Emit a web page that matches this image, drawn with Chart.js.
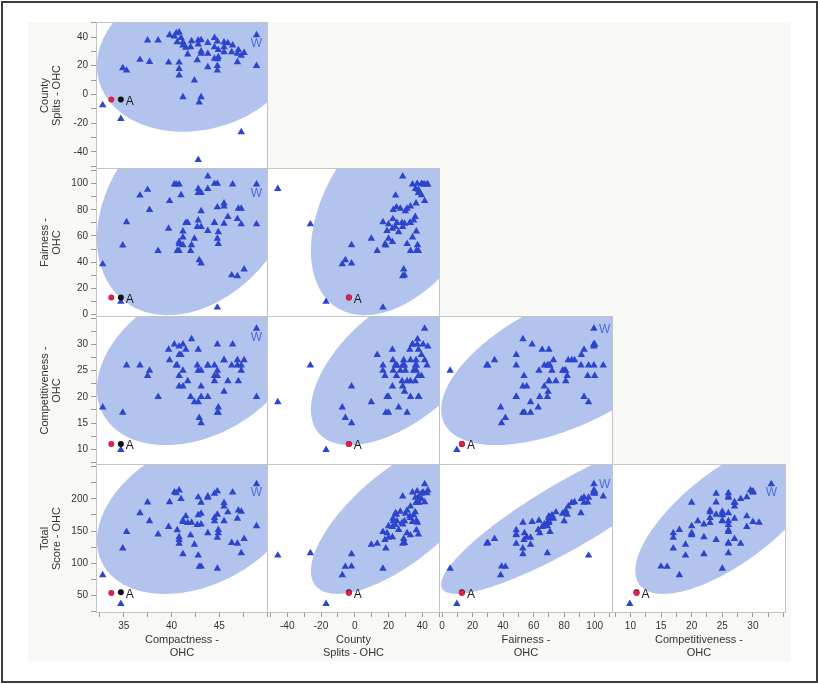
<!DOCTYPE html>
<html>
<head>
<meta charset="utf-8">
<script src="https://cdn.jsdelivr.net/npm/chart.js@4.4.1/dist/chart.umd.min.js"></script>
<style>
  body { margin: 0; background: #fff; }
  #frame { position: absolute; left: 1px; top: 1px; width: 817px; height: 682px; box-sizing: border-box; border: 2px solid #3c3c3c; }
  #bg { position: absolute; left: 28px; top: 22px; width: 763px; height: 639px; background: #f8f8f4; }
  .cell { position: absolute; }
</style>
</head>
<body>
<div id="frame"></div>
<div id="bg"></div>
<script>
// one entry per plan
const compactness = [32.8, 34.7, 34.9, 35.3, 36.7, 37.5, 37.7, 38.6, 39.7, 39.8,
  40.3, 40.5, 40.8, 41.0, 40.6, 41.2, 41.2, 41.5, 40.8, 40.8,
  40.8, 41.2, 42.1, 42.4, 42.8, 42.8, 43.1, 43.8, 43.8, 43.1,
  42.9, 42.8, 44.5, 44.5, 44.8, 44.8, 44.8, 45.5, 45.9, 45.5,
  46.4, 46.3, 46.9, 46.9, 47.3, 47.6, 47.3, 48.9, 48.9, 43.8,
  43.1, 44.9, 44.9, 44.5, 42.7, 43.1, 45.5, 47.0, 42.0, 41.7, 44.8];
const countySplits = [-7.4, -17, 18.4, 16.7, 24.2, 37.7, 22.8, 37.7, 22.3, 41.4,
  40.5, 42.8, 43.3, 39.5, 36.5, 36.5, 34.2, 32.6, 22.3, 17.9,
  13.3, -1.9, 37.2, 9.8, 37.7, 34.9, 28.4, 28.4, 19.1, -1.9,
  -5.6, -45.6, 39.5, 33, 24.7, 20, 16.7, 36.3, 35.8, 29.5,
  34.2, 29.5, 28.4, 22.6, 27, 29, -26.3, 41.4, 20, 36,
  30, 26, 31, 25, 24, 38, 33, 31, 33, 28, 37];
const fairness = [38.4, 9.7, 52.9, 70.7, 91, 95.4, 80, 48.6, 65.6, 86.8,
  99.5, 99.5, 99.5, 91.3, 48.6, 63.5, 59, 70, 55.5, 53.7,
  48.6, 53, 53, 58, 93, 72, 67, 105.6, 64, 39,
  41.5, 96, 100, 70, 82, 58, 5.3, 85, 74.6, 69.5,
  99.5, 30, 29.3, 73, 81, 34.4, 69, 99.5, 69, 96,
  79, 63, 54, 70, 67, 93, 82.7, 81, 48.6, 70, 100];
const competitiveness = [18, 9.9, 17, 26, 26, 24, 25, 20, 29, 27,
  30, 26, 29.6, 28, 26, 25, 30, 29, 22, 24,
  28, 22, 31, 19, 29, 25, 22, 26, 20, 15,
  16, 19, 24, 23, 24, 17, 25, 27, 23, 21,
  30, 26, 26, 27, 25, 27, 26, 33, 20, 26,
  25, 18, 17, 26, 26, 20, 27, 23, 20, 23, 30];
const totalScore = [81.8, 37.3, 123.2, 148.7, 177.9, 194.6, 165.5, 144.9, 156.6, 195.0,
  210.3, 208.8, 213.2, 199.8, 151.7, 166.2, 164.4, 173.1, 140.6, 136.4,
  130.7, 114.3, 163.3, 129.2, 202.5, 174.7, 160.5, 203.8, 146.9, 95.2,
  94.8, 112.2, 208.0, 170.5, 175.5, 139.8, 91.8, 193.8, 179.3, 165.5,
  210.1, 131.8, 130.6, 169.5, 180.3, 138.0, 116.0, 222.8, 157.9, 201.8,
  177.1, 151.9, 146.9, 165.5, 159.7, 194.1, 188.2, 182.0, 143.6, 162.7, 211.8];

// highlighted plans: compactness, splits, fairness, competitiveness, total
const planA = [34.7, -3.5, 13, 11, 55.2];
const planRed = [33.7, -3.5, 13, 11, 54.2];
const W_INDEX = 47;

// 95% density ellipses as drawn: centre and half-extent per variable, correlation per panel
const ellipseCentre = [42.8, 28, 83, 26.5, 175.6];
const ellipseHalf = [10.6, 54, 83.6, 15.7, 123];
const ellipseCorr = [
  [0.15],
  [0.30, 0.41],
  [0.32, 0.57, 0.57],
  [0.33, 0.71, 0.88, 0.71]
];

// tick labels
const compactnessTicks = [35, 40, 45];
const splitsTicks = [-40, -20, 0, 20, 40];
const fairnessTicks = [0, 20, 40, 60, 80, 100];
const competitivenessTicks = [10, 15, 20, 25, 30];
const totalTicks = [50, 100, 150, 200];

const VARS = [
  { values: compactness, title: ['Compactness -', 'OHC'], min: 32.1, max: 50.1, major: compactnessTicks, step: 2.5 },
  { values: countySplits, title: ['County', 'Splits - OHC'], min: -52, max: 50.5, major: splitsTicks, step: 10 },
  { values: fairness, title: ['Fairness -', 'OHC'], min: -2, max: 112, major: fairnessTicks, step: 10 },
  { values: competitiveness, title: ['Competitiveness -', 'OHC'], min: 7, max: 35.4, major: competitivenessTicks, step: 2.5 },
  { values: totalScore, title: ['Total', 'Score - OHC'], min: 23, max: 254, major: totalTicks, step: 25 }
];

const COL_X = [96, 267, 439, 612, 785];
const ROW_Y = [22, 168, 316, 464, 612];
const AXIS_LEFT = 30, AXIS_BOTTOM = 660;
const FONT = '"Liberation Sans", Arial, sans-serif';
// where the W label sits in each column
const W_POS = ['below', null, 'right', 'below'];

Chart.defaults.font.family = FONT;

function tickValues(v) {
  const out = [];
  for (let t = Math.ceil(v.min / v.step) * v.step; t <= v.max; t += v.step) out.push(Math.round(t * 100) / 100);
  return out;
}

const ellipsePlugin = {
  id: 'ellipse',
  beforeDatasetsDraw(chart) {
    const e = chart.options.plugins.ellipse;
    const { ctx, chartArea: ca, scales } = chart;
    const q = Math.sqrt(1 - e.rho * e.rho);
    ctx.save();
    ctx.beginPath();
    ctx.rect(ca.left, ca.top, ca.width, ca.height);
    ctx.clip();
    ctx.beginPath();
    for (let i = 0; i <= 160; i++) {
      const t = i / 160 * 2 * Math.PI;
      const px = scales.x.getPixelForValue(e.mx + e.sx * Math.cos(t));
      const py = scales.y.getPixelForValue(e.my + e.sy * (e.rho * Math.cos(t) + q * Math.sin(t)));
      i ? ctx.lineTo(px, py) : ctx.moveTo(px, py);
    }
    ctx.closePath();
    ctx.fillStyle = 'rgb(178,196,238)';
    ctx.fill();
    ctx.restore();
  }
};

const panelPlugin = {
  id: 'panel',
  beforeDraw(chart) {
    const { ctx, chartArea: ca } = chart;
    ctx.save();
    ctx.fillStyle = '#fff';
    ctx.fillRect(ca.left, ca.top, ca.width, ca.height);
    ctx.restore();
  },
  afterDatasetsDraw(chart) {
    const o = chart.options.plugins.panel;
    const { ctx, chartArea: ca, scales: { x, y } } = chart;
    ctx.save();
    ctx.beginPath();
    ctx.rect(ca.left, ca.top, ca.width, ca.height);
    ctx.clip();
    ctx.font = '12px ' + FONT;
    ctx.textBaseline = 'middle';
    ctx.fillStyle = '#1a1a1a';
    ctx.textAlign = 'left';
    ctx.fillText('A', x.getPixelForValue(o.a.x) + 5, y.getPixelForValue(o.a.y) + 2);
    if (o.wPos) {
      const wx = x.getPixelForValue(o.w.x), wy = y.getPixelForValue(o.w.y);
      ctx.fillStyle = '#4d6bd6';
      if (o.wPos === 'below') { ctx.textAlign = 'center'; ctx.fillText('W', wx, wy + 9); }
      else { ctx.textAlign = 'left'; ctx.fillText('W', wx + 5, wy + 1); }
    }
    ctx.restore();
  },
  afterDraw(chart) {
    const { ctx, chartArea: ca } = chart;
    ctx.save();
    ctx.strokeStyle = '#c4c4c4';
    ctx.lineWidth = 1;
    ctx.strokeRect(ca.left + 0.5, ca.top + 0.5, ca.width - 1, ca.height - 1);
    ctx.restore();
  }
};

function axisOptions(v, show, isX, size) {
  const ticks = tickValues(v);
  return {
    type: 'linear',
    min: v.min,
    max: v.max,
    display: show,
    position: isX ? 'bottom' : 'left',
    afterBuildTicks: s => { s.ticks = ticks.map(t => ({ value: t })); },
    afterFit: s => {
      const d = show ? size : 0;
      if (isX) s.height = d; else s.width = d;
      s.paddingTop = s.paddingBottom = s.paddingLeft = s.paddingRight = 0;
    },
    ticks: {
      autoSkip: false,
      maxRotation: 0,
      padding: 3,
      color: '#333',
      font: { size: 10 },
      callback: t => v.major.includes(Math.round(t * 100) / 100) ? String(t) : ''
    },
    grid: { drawOnChartArea: false, tickLength: isX ? 4 : 5, color: '#999' },
    border: { display: false },
    title: {
      display: true,
      text: v.title,
      color: '#333',
      font: { size: 11, lineHeight: isX ? 1.15 : 1.06 },
      padding: isX ? { top: 0, bottom: 1 } : { top: 9, bottom: 0 }
    }
  };
}

for (let r = 0; r < 4; r++) {
  for (let c = 0; c <= r; c++) {
    const xv = VARS[c], yv = VARS[r + 1];
    const left = c === 0 ? AXIS_LEFT : COL_X[c];
    const top = ROW_Y[r];
    const width = COL_X[c + 1] + 1 - left;
    const bottom = r === 3 ? AXIS_BOTTOM : ROW_Y[r + 1] + 1;
    const height = bottom - top;
    const box = document.createElement('div');
    box.className = 'cell';
    box.style.cssText = `left:${left}px;top:${top}px;width:${width}px;height:${height}px;`;
    const canvas = document.createElement('canvas');
    box.appendChild(canvas);
    document.body.appendChild(box);

    const pts = xv.values.map((x, i) => ({ x, y: yv.values[i] }));
    new Chart(canvas, {
      type: 'scatter',
      data: {
        datasets: [
          // higher order is drawn first: triangles, then A, then the red plan on top
          { data: pts, order: 3, pointStyle: 'triangle', pointRadius: 4.3, backgroundColor: '#2c45cc', borderWidth: 0 },
          { data: [{ x: planA[c], y: planA[r + 1] }], order: 2, pointRadius: 3, backgroundColor: '#111', borderWidth: 0 },
          { data: [{ x: planRed[c], y: planRed[r + 1] }], order: 1, pointRadius: 3, backgroundColor: '#dc1f4b', borderWidth: 0 }
        ]
      },
      options: {
        responsive: true,
        maintainAspectRatio: false,
        animation: false,
        events: [],
        layout: { padding: 0, autoPadding: false },
        plugins: {
          legend: { display: false },
          tooltip: { enabled: false },
          ellipse: {
            mx: ellipseCentre[c], sx: ellipseHalf[c],
            my: ellipseCentre[r + 1], sy: ellipseHalf[r + 1],
            rho: ellipseCorr[r][c]
          },
          panel: {
            a: { x: planA[c], y: planA[r + 1] },
            w: { x: xv.values[W_INDEX], y: yv.values[W_INDEX] },
            wPos: W_POS[c]
          }
        },
        scales: {
          x: axisOptions(xv, r === 3, true, AXIS_BOTTOM - ROW_Y[4] - 1),
          y: axisOptions(yv, c === 0, false, COL_X[0] - AXIS_LEFT)
        }
      },
      plugins: [ellipsePlugin, panelPlugin]
    });
  }
}
</script>
</body>
</html>
